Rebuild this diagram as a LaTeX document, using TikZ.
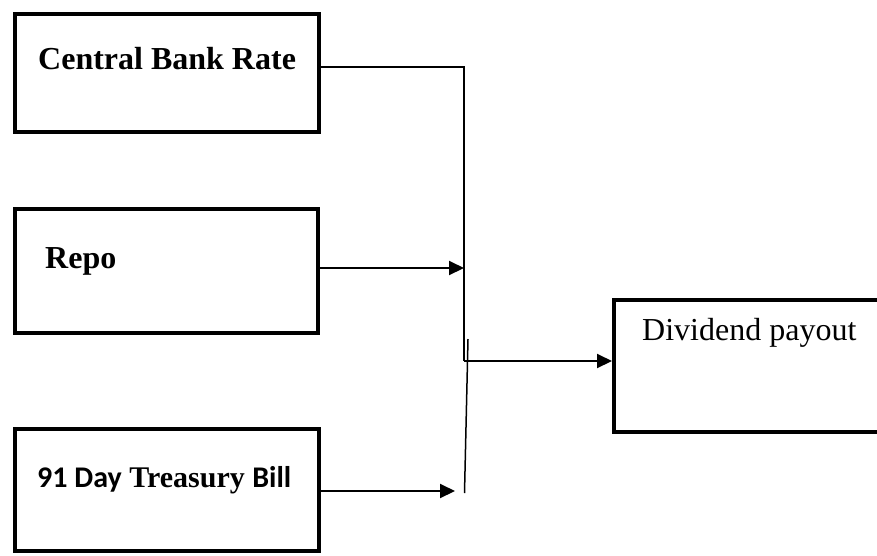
\documentclass[tikz,border=0pt]{standalone}
\usepackage{fontspec}
\setmainfont{Liberation Serif}
\newfontfamily\calibrifam{Carlito}
\newcommand{\calibritext}[1]{{\calibrifam\bfseries #1}}
\newcommand{\serifbold}[1]{{\rmfamily\bfseries #1}}
\usetikzlibrary{arrows.meta}
\begin{document}
\begin{tikzpicture}[x=1pt,y=1pt,
  box/.style={draw=black,line width=4pt,rectangle,inner sep=0pt,minimum width=304pt,minimum height=120pt},
  lbl/.style={anchor=base west,inner sep=0pt,font=\fontsize{32}{38}\selectfont},
  conn/.style={draw=black,line width=2pt},
  arr/.style={conn,-{Triangle[length=15pt,width=14pt]}}]
\clip (0,0) rectangle (877,-555);
\fill[white] (0,0) rectangle (877,-555);
% boxes
\node[box,minimum height=118pt] (cbr) at (167,-73) {};
\node[box,minimum height=124pt,minimum width=303pt] (repo) at (166.5,-271) {};
\node[box,minimum height=122pt] (tb) at (167,-490) {};
\node[box,minimum width=300pt,minimum height=132pt] (div) at (764,-366) {};
% texts
\node[lbl,font=\fontsize{32}{38}\selectfont\bfseries] (tcbr) at (38,-69) {Central Bank Rate};
\node[lbl,font=\fontsize{32}{38}\selectfont\bfseries] (trepo) at (45,-268) {Repo};
\node[lbl,font=\fontsize{30}{36}\selectfont] (ttb) at (37,-487) {\calibritext{91 Day} \serifbold{Treasury} \calibritext{Bill}};
\node[lbl] (tdiv) at (642,-340) {Dividend payout};
% junction coordinates
\coordinate (j1) at (464,-67);
\coordinate (j2) at (464,-361);
\coordinate (r) at (464,-268);
\coordinate (b) at (455,-491);
\coordinate (t1) at (468,-339);
\coordinate (t2) at (464.5,-493);
% connectors
\draw[conn] (cbr.east |- j1) -- (j1) -- (j2);
\draw[arr] (repo.east |- r) -- (r);
\draw[arr] (j2) -- (div.west |- j2);
\draw[draw=black,line width=1.5pt] (t1) -- (t2);
\draw[arr] (tb.east |- b) -- (b);
\end{tikzpicture}
\end{document}
